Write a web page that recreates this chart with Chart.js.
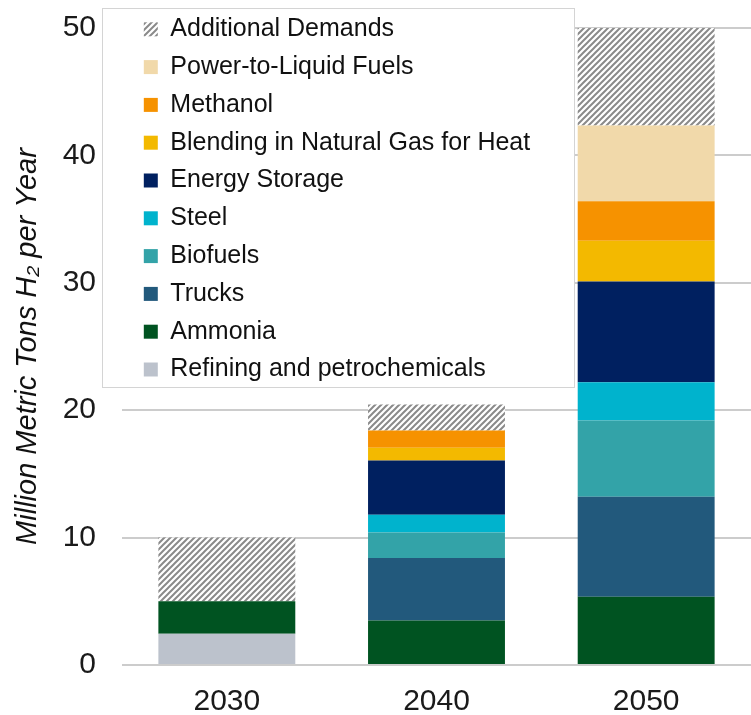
<!DOCTYPE html>
<html>
<head>
<meta charset="utf-8">
<script src="https://cdn.jsdelivr.net/npm/chart.js@4/dist/chart.umd.min.js"></script>
<style>
  body { margin: 0; background: #fff; }
</style>
</head>
<body>
<canvas id="myChart" width="751" height="715"></canvas>
<script>
// years on the x axis
const years = ['2030', '2040', '2050'];

// hydrogen demand by sector, million metric tons per year (stack bottom -> top)
const refining = [2.45, null, null];
const ammonia = [2.55, 3.5, 5.35];
const trucks = [null, 4.9, 7.85];
const biofuels = [null, 2.0, 6.0];
const steel = [null, 1.4, 3.0];
const energyStorage = [null, 4.25, 7.9];
const blending = [null, 1.0, 3.2];
const methanol = [null, 1.35, 3.1];
const powerToLiquid = [null, null, 5.95];
const additional = [5.0, 2.05, 7.65];

const yTicks = [0, 10, 20, 30, 40, 50];

// diagonal hatch for "Additional Demands"
function hatch() {
    const c = document.createElement('canvas');
    c.width = 6;
    c.height = 6;
    const g = c.getContext('2d');
    g.fillStyle = '#ffffff';
    g.fillRect(0, 0, 6, 6);
    g.strokeStyle = '#8a8a8a';
    g.lineWidth = 2;
    g.beginPath();
    g.moveTo(0, 6); g.lineTo(6, 0);
    g.moveTo(-1, 1); g.lineTo(1, -1);
    g.moveTo(5, 7); g.lineTo(7, 5);
    g.stroke();
    return g.createPattern(c, 'repeat');
}

const font = "'Liberation Sans', Arial, sans-serif";

// white framed box behind the legend, legend drawn again on top
const legendBox = {
    id: 'legendBox',
    afterLayout(chart) {
        chart.legend.left = 131;
        chart.legend.top = 4;
    },
    beforeDatasetsDraw(chart) {
        const ctx = chart.ctx;
        ctx.save();
        ctx.fillStyle = '#ffffff';
        ctx.fillRect(102, 8, 472, 379);
        ctx.strokeStyle = '#d4d4d4';
        ctx.lineWidth = 1;
        ctx.strokeRect(102.5, 8.5, 472, 379);
        ctx.restore();
        chart.legend.draw();
    }
};

var ctx = document.getElementById('myChart').getContext('2d');
var chart = new Chart(ctx, {
    type: 'bar',
    data: {
        labels: years,
        datasets: [
            { label: 'Refining and petrochemicals', data: refining, backgroundColor: '#bcc2cc' },
            { label: 'Ammonia', data: ammonia, backgroundColor: '#005321' },
            { label: 'Trucks', data: trucks, backgroundColor: '#22597c' },
            { label: 'Biofuels', data: biofuels, backgroundColor: '#33a3a8' },
            { label: 'Steel', data: steel, backgroundColor: '#00b3cd' },
            { label: 'Energy Storage', data: energyStorage, backgroundColor: '#002060' },
            { label: 'Blending in Natural Gas for Heat', data: blending, backgroundColor: '#f3b900' },
            { label: 'Methanol', data: methanol, backgroundColor: '#f69200' },
            { label: 'Power-to-Liquid Fuels', data: powerToLiquid, backgroundColor: '#f1d9aa' },
            { label: 'Additional Demands', data: additional, backgroundColor: hatch() }
        ]
    },
    options: {
        responsive: false,
        animation: false,
        events: [],
        datasets: {
            bar: { barPercentage: 0.653, categoryPercentage: 1, borderWidth: 0 }
        },
        layout: { padding: { left: 5, top: 28, right: 0, bottom: 0 } },
        plugins: {
            tooltip: { enabled: false },
            legend: {
                position: 'chartArea',
                align: 'start',
                reverse: true,
                labels: {
                    boxWidth: 14,
                    boxHeight: 14,
                    padding: 12.8,
                    color: '#111111',
                    font: { family: font, size: 25 }
                }
            }
        },
        scales: {
            x: {
                stacked: true,
                grid: { display: false, drawTicks: false },
                border: { display: false },
                ticks: { color: '#1a1a1a', padding: 22, font: { family: font, size: 30, lineHeight: 1 } },
                afterFit: (s) => { s.height = 50; }
            },
            y: {
                stacked: true,
                min: 0,
                max: 50,
                afterBuildTicks: (axis) => { axis.ticks = yTicks.map(v => ({ value: v })); },
                afterFit: (s) => { s.width = 117; s.paddingTop = 15; s.paddingBottom = 15; },
                grid: { color: '#cccccc', lineWidth: 2, drawTicks: false },
                border: { display: false },
                ticks: { color: '#1a1a1a', padding: 26, font: { family: font, size: 30, lineHeight: 1 } },
                title: {
                    display: true,
                    text: 'Million Metric Tons H\u2082 per Year',
                    color: '#111111',
                    padding: { top: 8, bottom: 0 },
                    font: { family: font, size: 29, style: 'italic', lineHeight: 1 }
                }
            }
        }
    },
    plugins: [legendBox]
});
</script>
</body>
</html>
